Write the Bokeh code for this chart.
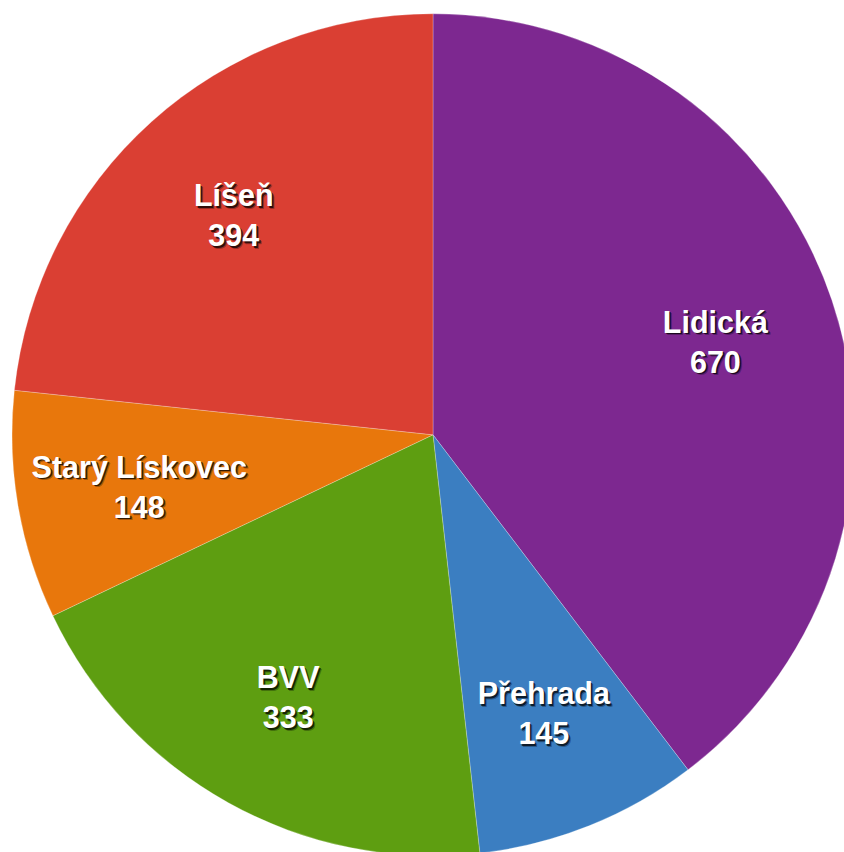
import math
from bokeh.plotting import figure
from bokeh.models import ColumnDataSource, Range1d
from bokeh.core.properties import value
from bokeh.embed import file_html
from bokeh.resources import INLINE

# data
categories = ["Lidická", "Přehrada", "BVV", "Starý Lískovec", "Líšeň"]
counts = [670, 145, 333, 148, 394]
colors = ["#7D2890", "#3B7EC1", "#5E9E11", "#E8770C", "#DA3F33"]

total = float(sum(counts))
starts, ends, lx, ly = [], [], [], []
R = 421.0
LR = 298.0
cum = 0.0
for c in counts:
    a0 = math.pi / 2 - cum / total * 2 * math.pi
    cum += c
    a1 = math.pi / 2 - cum / total * 2 * math.pi
    starts.append(a0)
    ends.append(a1)
    mid = (a0 + a1) / 2
    lx.append(LR * math.cos(mid))
    ly.append(LR * math.sin(mid))

src = ColumnDataSource(dict(
    cat=categories, val=[str(v) for v in counts], color=colors,
    start=starts, end=ends, lx=lx, ly=ly,
))

W, H = 844, 852
cx, cy = 432.5, 434.3
p = figure(width=W, height=H, output_backend="svg", toolbar_location=None,
           x_range=Range1d(-cx, W - cx), y_range=Range1d(cy - H, cy),
           min_border=0)
p.axis.visible = False
p.grid.visible = False
p.outline_line_color = None
p.background_fill_color = "white"
p.border_fill_color = "white"

p.wedge(x=0, y=0, radius=R, start_angle="start", end_angle="end",
        direction="clock", fill_color="color", line_color="white",
        line_alpha=0.25, line_width=1, source=src)

font = value("Liberation Sans")
fs = "30.5px"
for off, field in ((-18, "cat"), (22, "val")):
    for d, a in ((2.5, 0.3), (1.5, 0.7)):
        p.text(x="lx", y="ly", text=field, source=src, text_font=font,
               text_font_size=fs, text_color="black", text_alpha=a,
               text_font_style="bold",
               text_align="center", text_baseline="middle",
               x_offset=d, y_offset=off + d)
    p.text(x="lx", y="ly", text=field, source=src, text_font=font,
           text_font_size=fs, text_color="white", text_font_style="bold",
           text_align="center", text_baseline="middle",
           x_offset=0, y_offset=off)

open("out.html", "w").write(file_html(p, INLINE))
